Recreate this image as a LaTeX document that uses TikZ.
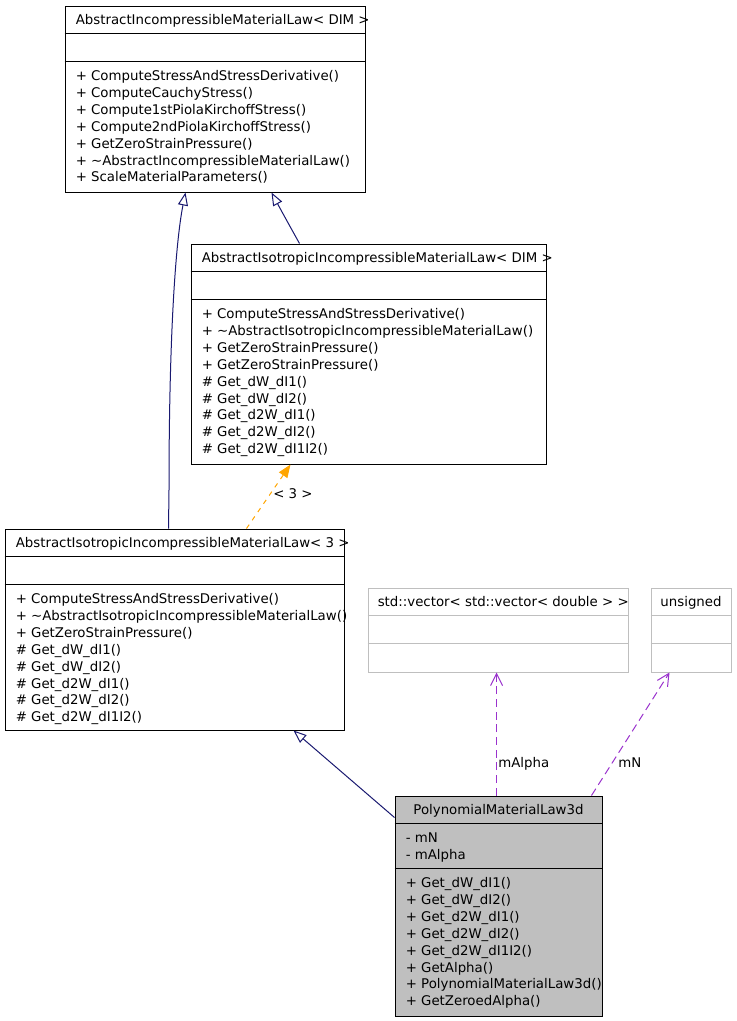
\documentclass[tikz,border=0pt]{standalone}
\usepackage{fontspec}
\setmainfont{DejaVu Sans}
\usetikzlibrary{arrows.meta,calc,fit}
\definecolor{navy}{HTML}{191970}
\definecolor{orch}{HTML}{9A32CD}
\definecolor{grey75}{HTML}{BFBFBF}
\definecolor{orng}{HTML}{FFA500}
\begin{document}
\begin{tikzpicture}[x=0.75pt,y=-0.75pt,
  box/.style={draw=black, line width=0.75pt, inner sep=0pt},
  gbox/.style={draw=grey75, line width=0.75pt, inner sep=0pt},
  sep/.style={line width=0.75pt},
  gsep/.style={draw=grey75, line width=0.75pt},
  txt/.style={inner sep=0pt, anchor=base west, font=\fontsize{10}{12}\selectfont},
  ctxt/.style={inner sep=0pt, anchor=base, font=\fontsize{10}{12}\selectfont},
  inh/.style={draw=navy, line width=0.75pt, -{Triangle[open, length=9.75pt, width=7.5pt]}},
  tmpl/.style={draw=orng, line width=0.75pt, dash pattern=on 3.5pt off 4pt, -{Triangle[length=9.75pt, width=7.5pt, fill=orng]}},
  use/.style={draw=orch, line width=0.75pt, dash pattern=on 6pt off 3.5pt, -{Straight Barb[length=9pt, width=9pt]}},
]
\useasboundingbox (0,0) rectangle (736,1021);

% ---- Box A
\node[box, fit={(65,6) (365,192)}] (A) {};
\draw[sep] ($(A.north west)+(0,28)$) -- ($(A.north east)+(0,28)$);
\draw[sep] ($(A.north west)+(0,56)$) -- ($(A.north east)+(0,56)$);
\node[txt] (A-t) at ($(A.north west)+(11,19)$) {AbstractIncompressibleMaterialLaw< DIM >};
\foreach \t [count=\i] in {+ ComputeStressAndStressDerivative(), + ComputeCauchyStress(), + Compute1stPiolaKirchoffStress(), + Compute2ndPiolaKirchoffStress(), + GetZeroStrainPressure(), + \textasciitilde AbstractIncompressibleMaterialLaw(), + ScaleMaterialParameters()}
  \node[txt] (A-m\i) at ($(A.north west)+(11,{75+(\i-1)*16.9})$) {\t};

% ---- Box B
\node[box, fit={(191,244) (546,464)}] (B) {};
\draw[sep] ($(B.north west)+(0,28)$) -- ($(B.north east)+(0,28)$);
\draw[sep] ($(B.north west)+(0,56)$) -- ($(B.north east)+(0,56)$);
\node[txt] (B-t) at ($(B.north west)+(11,19)$) {AbstractIsotropicIncompressibleMaterialLaw< DIM >};
\foreach \t [count=\i] in {+ ComputeStressAndStressDerivative(), + \textasciitilde AbstractIsotropicIncompressibleMaterialLaw(), + GetZeroStrainPressure(), + GetZeroStrainPressure(), \# Get\_dW\_dI1(), \# Get\_dW\_dI2(), \# Get\_d2W\_dI1(), \# Get\_d2W\_dI2(), \# Get\_d2W\_dI1I2()}
  \node[txt] (B-m\i) at ($(B.north west)+(11,{75+(\i-1)*16.9})$) {\t};

% ---- Box C
\node[box, fit={(5,529) (344,730)}] (C) {};
\draw[sep] ($(C.north west)+(0,28)$) -- ($(C.north east)+(0,28)$);
\draw[sep] ($(C.north west)+(0,56)$) -- ($(C.north east)+(0,56)$);
\node[txt] (C-t) at ($(C.north west)+(11,19)$) {AbstractIsotropicIncompressibleMaterialLaw< 3 >};
\foreach \t [count=\i] in {+ ComputeStressAndStressDerivative(), + \textasciitilde AbstractIsotropicIncompressibleMaterialLaw(), + GetZeroStrainPressure(), \# Get\_dW\_dI1(), \# Get\_dW\_dI2(), \# Get\_d2W\_dI1(), \# Get\_d2W\_dI2(), \# Get\_d2W\_dI1I2()}
  \node[txt] (C-m\i) at ($(C.north west)+(11,{75+(\i-1)*16.9})$) {\t};

% ---- Box D
\node[gbox, fit={(368,588) (628,672)}] (D) {};
\draw[gsep] ($(D.north west)+(0,28)$) -- ($(D.north east)+(0,28)$);
\draw[gsep] ($(D.north west)+(0,56)$) -- ($(D.north east)+(0,56)$);
\node[txt] (D-t) at ($(D.north west)+(10,19)$) {std::vector< std::vector< double > >};

% ---- Box E
\node[gbox, fit={(651,588) (731,672)}] (E) {};
\draw[gsep] ($(E.north west)+(0,28)$) -- ($(E.north east)+(0,28)$);
\draw[gsep] ($(E.north west)+(0,56)$) -- ($(E.north east)+(0,56)$);
\node[ctxt] (E-t) at ($(E.north)+(0,19)$) {unsigned};

% ---- Box F
\node[box, fill=grey75, fit={(395,796) (602,1016)}] (F) {};
\draw[sep] ($(F.north west)+(0,28)$) -- ($(F.north east)+(0,28)$);
\draw[sep] ($(F.north west)+(0,73)$) -- ($(F.north east)+(0,73)$);
\node[ctxt] (F-t) at ($(F.north)+(0,19)$) {PolynomialMaterialLaw3d};
\node[txt] (F-a1) at ($(F.north west)+(11,47)$) {- mN};
\node[txt] (F-a2) at ($(F.north west)+(11,64)$) {- mAlpha};
\foreach \t [count=\i] in {+ Get\_dW\_dI1(), + Get\_dW\_dI2(), + Get\_d2W\_dI1(), + Get\_d2W\_dI2(), + Get\_d2W\_dI1I2(), + GetAlpha(), + PolynomialMaterialLaw3d(), + GetZeroedAlpha()}
  \node[txt] (F-m\i) at ($(F.north west)+(11,{92+(\i-1)*16.9})$) {\t};

% ---- Connectors
\draw[inh] ($(C.north west)+(164,0)$) -- (169,490) .. controls (169,330) and (176,240) .. ($(A.south west)+(121,0)$);
\draw[inh] ($(B.north west)+(109,0)$) .. controls (292,230) and (282,212) .. ($(A.south west)+(207,0)$);
\draw[tmpl] ($(C.north west)+(242,0)$) -- ($(B.south west)+(100,0)$);
\node[txt] (l3) at (273,498) {< 3 >};
\draw[inh] ($(F.north west)+(0,22)$) -- ($(C.south west)+(289,0)$);
\draw[use] ($(F.north west)+(102,0)$) -- ($(D.south west)+(129,0)$);
\node[txt] (lA) at (498,767) {mAlpha};
\draw[use] ($(F.north west)+(197,0)$) -- ($(E.south west)+(19,0)$);
\node[txt] (lN) at (618,767) {mN};
\end{tikzpicture}
\end{document}
